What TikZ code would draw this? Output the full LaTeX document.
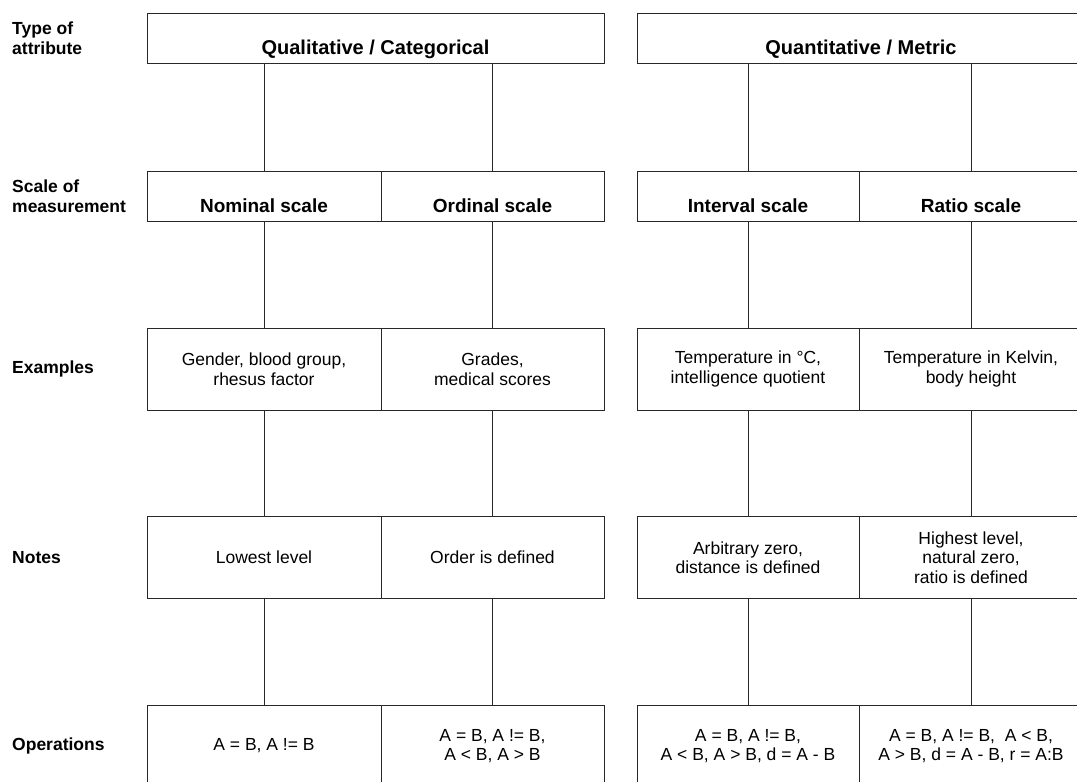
\documentclass[tikz,border=0pt]{standalone}
\usepackage{fontspec}
\setmainfont{Liberation Sans}
\usepackage{tikz}
\usetikzlibrary{positioning}
\definecolor{lineDark}{RGB}{40, 40, 40}

\begin{document}
\begin{tikzpicture}[x=1pt, y=-1pt,
    rowlabel/.style={anchor=west, align=left, inner sep=0pt, font=\fontsize{17.5}{20}\selectfont\bfseries},
    headbox/.style={draw=lineDark, line width=1pt, inner sep=0pt, minimum height=50pt, text height=41pt, text depth=9pt, font=\fontsize{19}{21}\selectfont\bfseries},
    cellbox/.style={draw=lineDark, line width=1pt, inner sep=0pt, minimum height=82pt, align=center, font=\fontsize{17.5}{19.5}\selectfont},
    link/.style={draw=lineDark, line width=1pt}]
    \useasboundingbox (0, 0) rectangle (1077, 782);
    \clip (0, 0) rectangle (1077, 782);

    % Row labels
    \node[rowlabel] (lbtype) at (12, 38) {Type of\\attribute};
    \node[rowlabel] (lbscale) at (12, 196) {Scale of\\measurement};
    \node[rowlabel] (lbex) at (12, 369) {Examples};
    \node[rowlabel] (lbnote) at (12, 557.5) {Notes};
    \node[rowlabel] (lbop) at (12, 746) {Operations};

    % Type of attribute
    \node[headbox, minimum width=457pt, font=\fontsize{20}{22}\selectfont\bfseries] (qual) at (375.5, 38) {Qualitative / Categorical};
    \node[headbox, minimum width=448pt, font=\fontsize{20}{22}\selectfont\bfseries] (quan) at (861, 38) {Quantitative / Metric};

    % Scale of measurement
    \node[headbox, minimum width=234pt] (nom) at (264, 196) {Nominal scale};
    \node[headbox, minimum width=223pt] (ord) at (492.5, 196) {Ordinal scale};
    \node[headbox, minimum width=222pt] (int) at (748, 196) {Interval scale};
    \node[headbox, minimum width=224pt] (rat) at (971, 196) {Ratio scale};

    % Examples
    \node[cellbox, minimum width=234pt] (exnom) at (264, 369) {Gender, blood group,\\rhesus factor};
    \node[cellbox, minimum width=223pt] (exord) at (492.5, 369) {Grades,\\medical scores};
    \node[cellbox, minimum width=222pt] (exint) at (748, 369) {Temperature in °C,\\intelligence quotient};
    \node[cellbox, minimum width=224pt] (exrat) at (971, 369) {Temperature in Kelvin,\\body height};

    % Notes
    \node[cellbox, minimum width=234pt] (notenom) at (264, 557.5) {Lowest level};
    \node[cellbox, minimum width=223pt] (noteord) at (492.5, 557.5) {Order is defined};
    \node[cellbox, minimum width=222pt] (noteint) at (748, 557.5) {Arbitrary zero,\\distance is defined};
    \node[cellbox, minimum width=224pt] (noterat) at (971, 557.5) {Highest level,\\natural zero,\\ratio is defined};

    % Operations
    \node[cellbox, minimum width=234pt] (opnom) at (264, 746) {A = B, A != B};
    \node[cellbox, minimum width=223pt] (opord) at (492.5, 746) {A = B, A != B,\\A < B, A > B};
    \node[cellbox, minimum width=222pt] (opint) at (748, 746) {A = B, A != B,\\A < B, A > B, d = A - B};
    \node[cellbox, minimum width=224pt] (oprat) at (971, 746) {A = B, A != B,~~A < B,\\A > B, d = A - B, r = A:B};

    % Connectors
    \draw[link] (nom.north |- qual.south) -- (nom.north);
    \draw[link] (ord.north |- qual.south) -- (ord.north);
    \draw[link] (int.north |- quan.south) -- (int.north);
    \draw[link] (rat.north |- quan.south) -- (rat.north);
    \foreach \c in {nom, ord, int, rat} {
        \draw[link] (\c.south) -- (ex\c.north);
        \draw[link] (ex\c.south) -- (note\c.north);
        \draw[link] (note\c.south) -- (op\c.north);
    }
\end{tikzpicture}
\end{document}
